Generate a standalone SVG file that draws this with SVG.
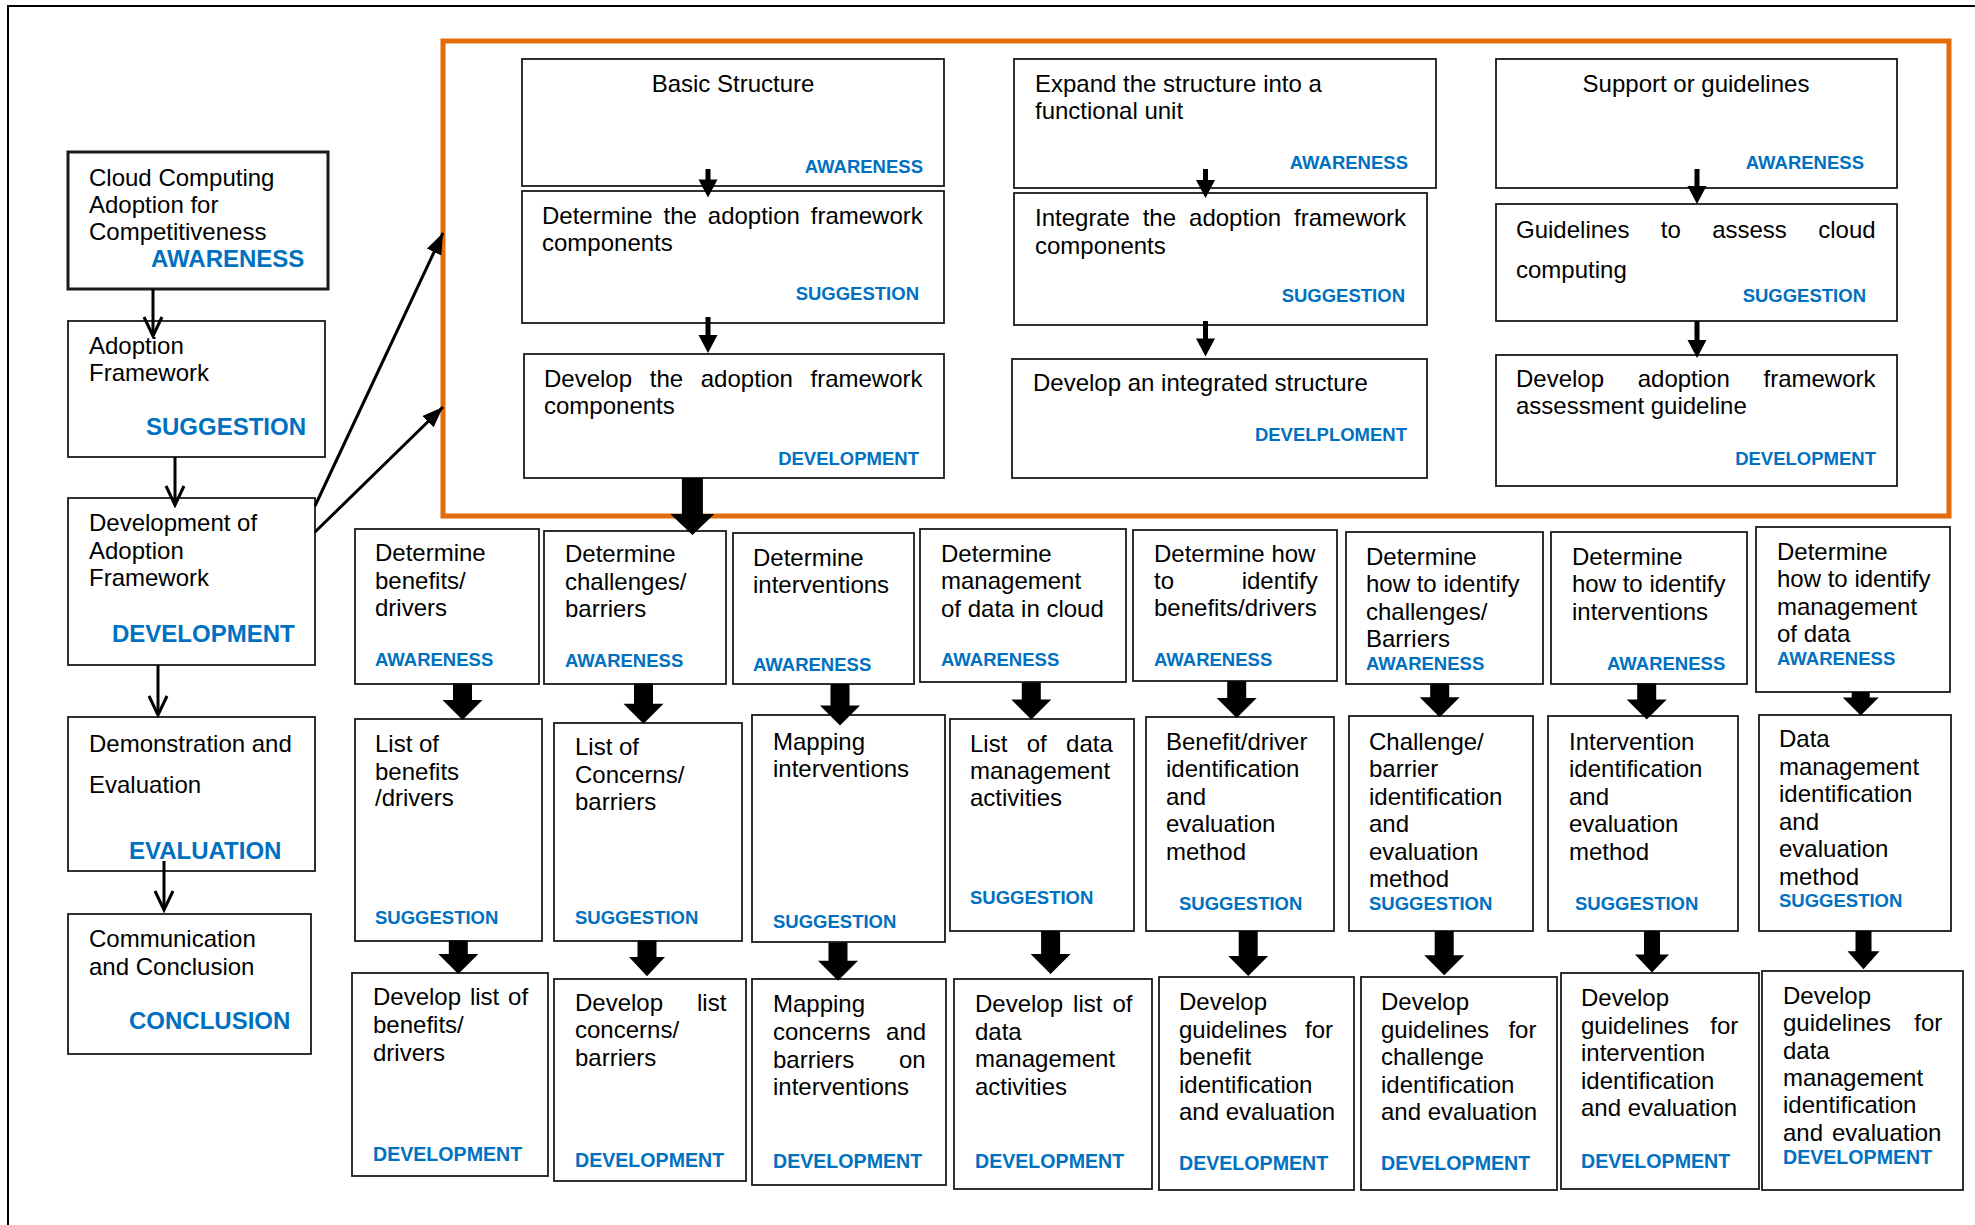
<svg xmlns="http://www.w3.org/2000/svg" width="1975" height="1225" viewBox="0 0 1975 1225">
  <style>
    .box { fill: #fff; stroke: #1a1a1a; stroke-width: 1.8; }
    .thick { stroke-width: 3; }
    .frame { fill: none; stroke: #E46C0A; stroke-width: 5; }
    text { font-family: "Liberation Sans", Arial, sans-serif; }
    .t { font-size: 24px; fill: #000; }
    .lbl { font-size: 18.5px; font-weight: bold; fill: #0070C0; }
    .lbl-big { font-size: 24px; font-weight: bold; fill: #0070C0; }
    .lbl-dev { font-size: 19.6px; font-weight: bold; fill: #0070C0; }
    .end { text-anchor: end; }
    .mid { text-anchor: middle; }
    .blk { fill: #000; }
    .ln { stroke: #000; stroke-width: 3; fill: none; }
  </style>
  <defs>
    <marker id="open" markerUnits="userSpaceOnUse" markerWidth="24" markerHeight="22" refX="21" refY="11" orient="auto">
      <path d="M2,2 L21,11 L2,20" fill="none" stroke="#000" stroke-width="3"/>
    </marker>
    <marker id="solid" markerUnits="userSpaceOnUse" markerWidth="22" markerHeight="16" refX="21" refY="8" orient="auto">
      <path d="M0,0 L21,8 L0,16 z" fill="#000"/>
    </marker>
  </defs>

  <rect width="1975" height="1225" fill="#fff"/>
  <!-- page border (top and left) -->
  <path d="M8,1225 L8,6 L1975,6" fill="none" stroke="#000" stroke-width="2"/>

  <!-- left process column -->
  <g id="cloud-adoption">
    <rect class="box thick" x="68" y="152" width="260" height="137"/>
    <text class="t" x="89" y="186">Cloud Computing</text>
    <text class="t" x="89" y="213">Adoption for</text>
    <text class="t" x="89" y="240">Competitiveness</text>
    <text class="lbl-big" x="151" y="267">AWARENESS</text>
  </g>
  <g id="adoption-framework">
    <rect class="box" x="68" y="321" width="257" height="136"/>
    <text class="t" x="89" y="354">Adoption</text>
    <text class="t" x="89" y="381">Framework</text>
    <text class="lbl-big" x="146" y="435">SUGGESTION</text>
  </g>
  <g id="development-of-framework">
    <rect class="box" x="68" y="498" width="247" height="167"/>
    <text class="t" x="89" y="531">Development of</text>
    <text class="t" x="89" y="559">Adoption</text>
    <text class="t" x="89" y="586">Framework</text>
    <text class="lbl-big" x="112" y="642">DEVELOPMENT</text>
  </g>
  <g id="demonstration">
    <rect class="box" x="68" y="717" width="247" height="154"/>
    <text class="t" x="89" y="752">Demonstration and</text>
    <text class="t" x="89" y="793">Evaluation</text>
    <text class="lbl-big" x="129" y="859">EVALUATION</text>
  </g>
  <g id="communication">
    <rect class="box" x="68" y="914" width="243" height="140"/>
    <text class="t" x="89" y="947">Communication</text>
    <text class="t" x="89" y="975">and Conclusion</text>
    <text class="lbl-big" x="129" y="1029">CONCLUSION</text>
  </g>

  <!-- framework development stages -->
  <rect class="frame" x="443" y="41" width="1506" height="475"/>

  <g id="basic-structure">
    <rect class="box" x="522" y="59" width="422" height="127"/>
    <text class="t mid" x="733" y="92">Basic Structure</text>
    <text class="lbl end" x="923" y="173">AWARENESS</text>
  </g>
  <g id="determine-components">
    <rect class="box" x="522" y="191" width="422" height="132"/>
    <text class="t" x="542" y="224" style="word-spacing:4.2px">Determine the adoption framework</text>
    <text class="t" x="542" y="251">components</text>
    <text class="lbl end" x="919" y="300">SUGGESTION</text>
  </g>
  <g id="develop-components">
    <rect class="box" x="524" y="354" width="420" height="124"/>
    <text class="t" x="544" y="387" style="word-spacing:11px">Develop the adoption framework</text>
    <text class="t" x="544" y="414">components</text>
    <text class="lbl end" x="919" y="465">DEVELOPMENT</text>
  </g>

  <g id="expand-structure">
    <rect class="box" x="1014" y="59" width="422" height="129"/>
    <text class="t" x="1035" y="92">Expand the structure into a</text>
    <text class="t" x="1035" y="119">functional unit</text>
    <text class="lbl end" x="1408" y="169">AWARENESS</text>
  </g>
  <g id="integrate-components">
    <rect class="box" x="1014" y="193" width="413" height="132"/>
    <text class="t" x="1035" y="226" style="word-spacing:6.3px">Integrate the adoption framework</text>
    <text class="t" x="1035" y="254">components</text>
    <text class="lbl end" x="1405" y="302">SUGGESTION</text>
  </g>
  <g id="integrated-structure">
    <rect class="box" x="1012" y="359" width="415" height="119"/>
    <text class="t" x="1033" y="391">Develop an integrated structure</text>
    <text class="lbl end" x="1407" y="441">DEVELPLOMENT</text>
  </g>

  <g id="support-guidelines">
    <rect class="box" x="1496" y="59" width="401" height="129"/>
    <text class="t mid" x="1696" y="92">Support or guidelines</text>
    <text class="lbl end" x="1864" y="169">AWARENESS</text>
  </g>
  <g id="assess-guidelines">
    <rect class="box" x="1496" y="204" width="401" height="117"/>
    <text class="t" x="1516" y="238" style="word-spacing:24.7px">Guidelines to assess cloud</text>
    <text class="t" x="1516" y="278">computing</text>
    <text class="lbl end" x="1866" y="302">SUGGESTION</text>
  </g>
  <g id="assessment-guideline">
    <rect class="box" x="1496" y="355" width="401" height="131"/>
    <text class="t" x="1516" y="387" style="word-spacing:27px">Develop adoption framework</text>
    <text class="t" x="1516" y="414">assessment guideline</text>
    <text class="lbl end" x="1876" y="465">DEVELOPMENT</text>
  </g>

  <!-- awareness row -->
  <g id="det-benefits">
    <rect class="box" x="355" y="529" width="184" height="155"/>
    <text class="t" x="375" y="561">Determine</text>
    <text class="t" x="375" y="589">benefits/</text>
    <text class="t" x="375" y="616">drivers</text>
    <text class="lbl" x="375" y="666">AWARENESS</text>
  </g>
  <g id="det-challenges">
    <rect class="box" x="544" y="531" width="182" height="153"/>
    <text class="t" x="565" y="562">Determine</text>
    <text class="t" x="565" y="590">challenges/</text>
    <text class="t" x="565" y="617">barriers</text>
    <text class="lbl" x="565" y="667">AWARENESS</text>
  </g>
  <g id="det-interventions">
    <rect class="box" x="733" y="533" width="181" height="151"/>
    <text class="t" x="753" y="566">Determine</text>
    <text class="t" x="753" y="593">interventions</text>
    <text class="lbl" x="753" y="671">AWARENESS</text>
  </g>
  <g id="det-data">
    <rect class="box" x="920" y="529" width="206" height="153"/>
    <text class="t" x="941" y="562">Determine</text>
    <text class="t" x="941" y="589">management</text>
    <text class="t" x="941" y="617">of data in cloud</text>
    <text class="lbl" x="941" y="666">AWARENESS</text>
  </g>
  <g id="how-benefits">
    <rect class="box" x="1133" y="530" width="204" height="151"/>
    <text class="t" x="1154" y="562">Determine how</text>
    <text class="t" x="1154" y="589" style="word-spacing:61px">to identify</text>
    <text class="t" x="1154" y="616">benefits/drivers</text>
    <text class="lbl" x="1154" y="666">AWARENESS</text>
  </g>
  <g id="how-challenges">
    <rect class="box" x="1346" y="532" width="197" height="152"/>
    <text class="t" x="1366" y="565">Determine</text>
    <text class="t" x="1366" y="592">how to identify</text>
    <text class="t" x="1366" y="620">challenges/</text>
    <text class="t" x="1366" y="647">Barriers</text>
    <text class="lbl" x="1366" y="670">AWARENESS</text>
  </g>
  <g id="how-interventions">
    <rect class="box" x="1551" y="532" width="196" height="152"/>
    <text class="t" x="1572" y="565">Determine</text>
    <text class="t" x="1572" y="592">how to identify</text>
    <text class="t" x="1572" y="620">interventions</text>
    <text class="lbl" x="1607" y="670">AWARENESS</text>
  </g>
  <g id="how-data">
    <rect class="box" x="1756" y="527" width="194" height="165"/>
    <text class="t" x="1777" y="560">Determine</text>
    <text class="t" x="1777" y="587">how to identify</text>
    <text class="t" x="1777" y="615">management</text>
    <text class="t" x="1777" y="642">of data</text>
    <text class="lbl" x="1777" y="665">AWARENESS</text>
  </g>

  <!-- suggestion row -->
  <g id="list-benefits">
    <rect class="box" x="355" y="719" width="187" height="222"/>
    <text class="t" x="375" y="752">List of</text>
    <text class="t" x="375" y="780">benefits</text>
    <text class="t" x="375" y="806">/drivers</text>
    <text class="lbl" x="375" y="924">SUGGESTION</text>
  </g>
  <g id="list-concerns">
    <rect class="box" x="554" y="723" width="188" height="218"/>
    <text class="t" x="575" y="755">List of</text>
    <text class="t" x="575" y="783">Concerns/</text>
    <text class="t" x="575" y="810">barriers</text>
    <text class="lbl" x="575" y="924">SUGGESTION</text>
  </g>
  <g id="map-interventions">
    <rect class="box" x="752" y="715" width="193" height="227"/>
    <text class="t" x="773" y="750">Mapping</text>
    <text class="t" x="773" y="777">interventions</text>
    <text class="lbl" x="773" y="928">SUGGESTION</text>
  </g>
  <g id="list-data">
    <rect class="box" x="950" y="719" width="184" height="212"/>
    <text class="t" x="970" y="752" style="word-spacing:12.7px">List of data</text>
    <text class="t" x="970" y="779">management</text>
    <text class="t" x="970" y="806">activities</text>
    <text class="lbl" x="970" y="904">SUGGESTION</text>
  </g>
  <g id="benefit-method">
    <rect class="box" x="1146" y="717" width="188" height="214"/>
    <text class="t" x="1166" y="750">Benefit/driver</text>
    <text class="t" x="1166" y="777">identification</text>
    <text class="t" x="1166" y="805">and</text>
    <text class="t" x="1166" y="832">evaluation</text>
    <text class="t" x="1166" y="860">method</text>
    <text class="lbl" x="1179" y="910">SUGGESTION</text>
  </g>
  <g id="challenge-method">
    <rect class="box" x="1349" y="716" width="184" height="215"/>
    <text class="t" x="1369" y="750">Challenge/</text>
    <text class="t" x="1369" y="777">barrier</text>
    <text class="t" x="1369" y="805">identification</text>
    <text class="t" x="1369" y="832">and</text>
    <text class="t" x="1369" y="860">evaluation</text>
    <text class="t" x="1369" y="887">method</text>
    <text class="lbl" x="1369" y="910">SUGGESTION</text>
  </g>
  <g id="intervention-method">
    <rect class="box" x="1548" y="716" width="190" height="215"/>
    <text class="t" x="1569" y="750">Intervention</text>
    <text class="t" x="1569" y="777">identification</text>
    <text class="t" x="1569" y="805">and</text>
    <text class="t" x="1569" y="832">evaluation</text>
    <text class="t" x="1569" y="860">method</text>
    <text class="lbl" x="1575" y="910">SUGGESTION</text>
  </g>
  <g id="data-method">
    <rect class="box" x="1759" y="715" width="192" height="216"/>
    <text class="t" x="1779" y="747">Data</text>
    <text class="t" x="1779" y="775">management</text>
    <text class="t" x="1779" y="802">identification</text>
    <text class="t" x="1779" y="830">and</text>
    <text class="t" x="1779" y="857">evaluation</text>
    <text class="t" x="1779" y="885">method</text>
    <text class="lbl" x="1779" y="907">SUGGESTION</text>
  </g>

  <!-- development row -->
  <g id="dev-benefits">
    <rect class="box" x="352" y="973" width="196" height="203"/>
    <text class="t" x="373" y="1005" style="word-spacing:2.2px">Develop list of</text>
    <text class="t" x="373" y="1033">benefits/</text>
    <text class="t" x="373" y="1061">drivers</text>
    <text class="lbl-dev" x="373" y="1161">DEVELOPMENT</text>
  </g>
  <g id="dev-concerns">
    <rect class="box" x="554" y="979" width="192" height="202"/>
    <text class="t" x="575" y="1011" style="word-spacing:27.3px">Develop list</text>
    <text class="t" x="575" y="1038">concerns/</text>
    <text class="t" x="575" y="1066">barriers</text>
    <text class="lbl-dev" x="575" y="1167">DEVELOPMENT</text>
  </g>
  <g id="map-concerns">
    <rect class="box" x="752" y="979" width="194" height="206"/>
    <text class="t" x="773" y="1012">Mapping</text>
    <text class="t" x="773" y="1040" style="word-spacing:9px">concerns and</text>
    <text class="t" x="773" y="1068" style="word-spacing:37.9px">barriers on</text>
    <text class="t" x="773" y="1095">interventions</text>
    <text class="lbl-dev" x="773" y="1168">DEVELOPMENT</text>
  </g>
  <g id="dev-data">
    <rect class="box" x="954" y="979" width="198" height="210"/>
    <text class="t" x="975" y="1012" style="word-spacing:3.4px">Develop list of</text>
    <text class="t" x="975" y="1040">data</text>
    <text class="t" x="975" y="1067">management</text>
    <text class="t" x="975" y="1095">activities</text>
    <text class="lbl-dev" x="975" y="1168">DEVELOPMENT</text>
  </g>
  <g id="guide-benefit">
    <rect class="box" x="1159" y="977" width="195" height="213"/>
    <text class="t" x="1179" y="1010">Develop</text>
    <text class="t" x="1179" y="1038" style="word-spacing:11.3px">guidelines for</text>
    <text class="t" x="1179" y="1065">benefit</text>
    <text class="t" x="1179" y="1093">identification</text>
    <text class="t" x="1179" y="1120">and evaluation</text>
    <text class="lbl-dev" x="1179" y="1170">DEVELOPMENT</text>
  </g>
  <g id="guide-challenge">
    <rect class="box" x="1361" y="977" width="196" height="213"/>
    <text class="t" x="1381" y="1010">Develop</text>
    <text class="t" x="1381" y="1038" style="word-spacing:12.7px">guidelines for</text>
    <text class="t" x="1381" y="1065">challenge</text>
    <text class="t" x="1381" y="1093">identification</text>
    <text class="t" x="1381" y="1120">and evaluation</text>
    <text class="lbl-dev" x="1381" y="1170">DEVELOPMENT</text>
  </g>
  <g id="guide-intervention">
    <rect class="box" x="1561" y="973" width="198" height="216"/>
    <text class="t" x="1581" y="1006">Develop</text>
    <text class="t" x="1581" y="1034" style="word-spacing:14.5px">guidelines for</text>
    <text class="t" x="1581" y="1061">intervention</text>
    <text class="t" x="1581" y="1089">identification</text>
    <text class="t" x="1581" y="1116">and evaluation</text>
    <text class="lbl-dev" x="1581" y="1168">DEVELOPMENT</text>
  </g>
  <g id="guide-data">
    <rect class="box" x="1762" y="971" width="201" height="219"/>
    <text class="t" x="1783" y="1004">Develop</text>
    <text class="t" x="1783" y="1031" style="word-spacing:16.6px">guidelines for</text>
    <text class="t" x="1783" y="1059">data</text>
    <text class="t" x="1783" y="1086">management</text>
    <text class="t" x="1783" y="1113">identification</text>
    <text class="t" x="1783" y="1141" style="word-spacing:2.3px">and evaluation</text>
    <text class="lbl-dev" x="1783" y="1164">DEVELOPMENT</text>
  </g>

  <g id="connectors">
    <!-- left column -->
    <line class="ln" x1="153" y1="289" x2="153" y2="336" marker-end="url(#open)"/>
    <line class="ln" x1="175" y1="457" x2="175" y2="505" marker-end="url(#open)"/>
    <line class="ln" x1="158" y1="665" x2="158" y2="715" marker-end="url(#open)"/>
    <line class="ln" x1="164" y1="861" x2="164" y2="910" marker-end="url(#open)"/>
    <!-- to the stage frame -->
    <line class="ln" x1="315" y1="506" x2="443" y2="233" marker-end="url(#solid)"/>
    <line class="ln" x1="315" y1="532" x2="443" y2="407" marker-end="url(#solid)"/>

    <!-- inside the frame -->
    <polygon class="blk" points="705.5,169 710.5,169 710.5,179.5 717.5,179.5 708,197.5 698.5,179.5 705.5,179.5"/>
    <polygon class="blk" points="705.5,317 710.5,317 710.5,335 717.5,335 708,353 698.5,335 705.5,335"/>
    <polygon class="blk" points="1203,169 1208,169 1208,180 1215,180 1205.5,198 1196,180 1203,180"/>
    <polygon class="blk" points="1203,321 1208,321 1208,338.4 1215,338.4 1205.5,356.4 1196,338.4 1203,338.4"/>
    <polygon class="blk" points="1694.5,169 1699.5,169 1699.5,186 1706.5,186 1697,204 1687.5,186 1694.5,186"/>
    <polygon class="blk" points="1694.5,321 1699.5,321 1699.5,340 1706.5,340 1697,358 1687.5,340 1694.5,340"/>

    <!-- frame to the detail rows -->
    <polygon class="blk" points="681.9,478 702.9,478 702.9,514 714.4,514 692.4,535 670.4,514 681.9,514"/>

    <!-- awareness to suggestion -->
    <polygon class="blk" points="453,683.5 472,683.5 472,700 482.5,700 462.5,720 442.5,700 453,700"/>
    <polygon class="blk" points="634,683.5 653,683.5 653,703.8 663.5,703.8 643.5,723.8 623.5,703.8 634,703.8"/>
    <polygon class="blk" points="830.5,684 849.5,684 849.5,705.6 860,705.6 840,725.6 820,705.6 830.5,705.6"/>
    <polygon class="blk" points="1021.8,682.2 1040.8,682.2 1040.8,699.6 1051.3,699.6 1031.3,719.6 1011.3,699.6 1021.8,699.6"/>
    <polygon class="blk" points="1227.2,681.2 1246.2,681.2 1246.2,698 1256.7,698 1236.7,718 1216.7,698 1227.2,698"/>
    <polygon class="blk" points="1430.2,683.5 1449.2,683.5 1449.2,697.3 1459.7,697.3 1439.7,717.3 1419.7,697.3 1430.2,697.3"/>
    <polygon class="blk" points="1637.2,683.5 1656.2,683.5 1656.2,699.6 1666.7,699.6 1646.7,719.6 1626.7,699.6 1637.2,699.6"/>
    <polygon class="blk" points="1851.7,691.9 1869.7,691.9 1869.7,697.4 1878.7,697.4 1860.7,715.4 1842.7,697.4 1851.7,697.4"/>

    <!-- suggestion to development -->
    <polygon class="blk" points="448.8,940.6 467.8,940.6 467.8,953.9 478.3,953.9 458.3,973.9 438.3,953.9 448.8,953.9"/>
    <polygon class="blk" points="637.5,940.6 656.5,940.6 656.5,957 665,957 647,976.2 629,957 637.5,957"/>
    <polygon class="blk" points="828.5,942.4 847.5,942.4 847.5,960.8 858,960.8 838,980.8 818,960.8 828.5,960.8"/>
    <polygon class="blk" points="1041.1,931 1060.1,931 1060.1,953.9 1070.6,953.9 1050.6,973.9 1030.6,953.9 1041.1,953.9"/>
    <polygon class="blk" points="1238.7,931 1257.7,931 1257.7,956 1268.2,956 1248.2,976 1228.2,956 1238.7,956"/>
    <polygon class="blk" points="1434.7,931 1453.7,931 1453.7,955.3 1464.2,955.3 1444.2,975.3 1424.2,955.3 1434.7,955.3"/>
    <polygon class="blk" points="1644,931 1660,931 1660,954.5 1669,954.5 1652,972.5 1635,954.5 1644,954.5"/>
    <polygon class="blk" points="1855.5,931 1871.5,931 1871.5,951.3 1879.5,951.3 1863.5,969.3 1847.5,951.3 1855.5,951.3"/>
  </g>
</svg>
